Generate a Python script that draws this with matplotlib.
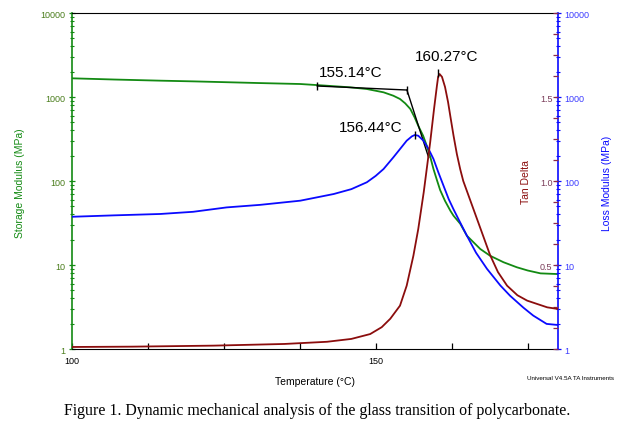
import numpy as np
import matplotlib
matplotlib.use('Agg')
import matplotlib.pyplot as plt
from matplotlib.ticker import FixedLocator, MultipleLocator, FuncFormatter, NullFormatter, LogLocator

# storage modulus (MPa)
T_stor = [100, 107, 114.6, 120, 125.5, 131, 137.6, 141.5, 145.8, 148.55, 151.3, 152.9, 154.0,
          154.85, 155.7, 156.4, 157.0, 157.8, 158.4, 159.0, 159.5, 160.1, 160.6, 161.4, 162.3,
          162.8, 163.9, 165.0, 167.2, 168.8, 171.0, 173.2, 175.0, 177.1, 180.0]
E_stor = [1670, 1615, 1565, 1535, 1500, 1465, 1428, 1370, 1304, 1245, 1137, 1036, 947,
          841, 720, 573, 455, 346, 263, 191, 139, 101, 78, 58, 44,
          38.6, 31, 22.3, 15.5, 12.9, 10.8, 9.4, 8.6, 7.95, 7.8]

# loss modulus (MPa)
T_loss = [100, 107, 114.6, 120, 125.5, 131, 137.6, 143.1, 146, 148.55, 150, 151.3, 152.9,
          154.0, 155.1, 155.95, 156.44, 157.0, 157.86, 158.7, 159.5, 160.3, 161.15, 162.0,
          162.8, 163.9, 165.0, 166.5, 168.3, 170.5, 172.1, 174.3, 175.9, 178.1, 180.0]
E_loss = [37.5, 39, 40.5, 43, 48.5, 52, 58.3, 70, 80, 96.6, 115, 139, 191,
          240, 302, 340, 353, 346, 302, 240, 183, 127, 88, 61,
          46, 32, 22.3, 14, 9.0, 5.7, 4.3, 3.1, 2.5, 1.99, 1.93]

# tan delta
T_tan = [100, 110, 123.3, 135, 142, 146, 149.1, 151, 152.4, 154.0, 155.1, 156.2, 157.0, 157.9,
         158.96, 159.6, 160.07, 160.27, 160.5, 160.9, 161.4, 161.9, 162.3, 162.8, 163.35, 163.9,
         164.4, 165.5, 166.6, 167.7, 168.8, 170.1, 171.6, 173.3, 174.9, 178.2, 180.0]
tan_d = [0.012, 0.014, 0.02, 0.03, 0.043, 0.06, 0.089, 0.13, 0.18, 0.258, 0.377, 0.555, 0.714, 0.933,
         1.23, 1.43, 1.567, 1.62, 1.637, 1.62, 1.56, 1.47, 1.38, 1.27, 1.16, 1.07,
         1.0, 0.89, 0.78, 0.67, 0.56, 0.458, 0.377, 0.32, 0.288, 0.248, 0.238]

# onset tangents
tang1_T = [140.4, 155.14]
tang1_E = [1352, 1211]
tang2_T = [155.14, 158.7]
tang2_E = [1211, 191]

green = '#138a13'
blue = '#0a0aff'
dred = '#8b0d0d'

fig = plt.figure(figsize=(6.35, 4.35), dpi=100)
ax = fig.add_axes([0.1126, 0.1954, 0.7664, 0.7724])
ax2 = ax.twinx()
ax3 = ax.twinx()

# storage modulus - left
ax.plot(T_stor, E_stor, color=green, lw=1.3)
ax.plot(tang1_T, tang1_E, color='black', lw=1)
ax.plot(tang2_T, tang2_E, color='black', lw=1)
ax.plot(tang1_T, tang1_E, ls='none', marker='|', color='black', ms=6, mew=1)
ax.set_yscale('log')
ax.set_ylim(1, 10000)
ax.set_xlim(100, 180)

# loss modulus - right
ax2.plot(T_loss, E_loss, color=blue, lw=1.3)
ax2.plot([156.44], [353], ls='none', marker='|', color='black', ms=6, mew=1)
ax2.set_yscale('log')
ax2.set_ylim(1, 10000)

# tan delta - inner right
ax3.plot(T_tan, tan_d, color=dred, lw=1.3)
ax3.plot([160.27], [1.64], ls='none', marker='|', color='black', ms=6, mew=1)
ax3.set_ylim(0, 2)

fmt = FuncFormatter(lambda v, p: f'{v:g}')
for a, c in [(ax, green), (ax2, blue)]:
    a.yaxis.set_major_locator(LogLocator(base=10, numticks=10))
    a.yaxis.set_minor_locator(LogLocator(base=10, subs=np.arange(2, 10), numticks=10))
    a.yaxis.set_major_formatter(fmt)
    a.yaxis.set_minor_formatter(NullFormatter())
    a.tick_params(axis='y', which='major', direction='inout', length=5, width=0.9, color=c,
                  labelsize=6.5, pad=2)
    a.tick_params(axis='y', which='minor', direction='inout', length=3.5, width=0.8, color=c)

ax.tick_params(axis='y', labelcolor='#4a7d1c')
ax2.tick_params(axis='y', labelcolor='#3c3cff')

ax3.yaxis.set_major_locator(FixedLocator([0.5, 1.0, 1.5]))
ax3.yaxis.set_minor_locator(MultipleLocator(0.125))
ax3.yaxis.set_major_formatter(FuncFormatter(lambda v, p: f'{v:.1f}'))
ax3.tick_params(axis='y', which='both', direction='in', length=3.5, width=0.9, color='#8b2a4a',
                labelsize=6.5, labelcolor='#7b3d5a', pad=-4)
for lab in ax3.get_yticklabels():
    lab.set_horizontalalignment('right')

ax.xaxis.set_major_locator(FixedLocator([100, 150]))
ax.xaxis.set_minor_locator(MultipleLocator(12.5))
ax.tick_params(axis='x', which='both', direction='in', length=4, width=0.9, color='black',
               labelsize=6.5, pad=5)

for a in (ax2, ax3):
    a.spines['left'].set_visible(False)
    a.spines['top'].set_visible(False)
    a.spines['bottom'].set_visible(False)
ax3.spines['right'].set_visible(False)
ax.spines['right'].set_visible(False)
ax.spines['left'].set_color(green)
ax.spines['left'].set_linewidth(1.2)
ax2.spines['right'].set_color(blue)
ax2.spines['right'].set_linewidth(1.2)

plt.rcParams['font.family'] = 'Liberation Sans'
lab_font = dict(family='Liberation Sans', size=7.5)
ax.set_ylabel('Storage Modulus (MPa)', color=green, **lab_font)
ax.yaxis.set_label_coords(-0.0956, 0.497)
ax2.set_ylabel('Loss Modulus (MPa)', color=blue, **lab_font)
ax2.yaxis.set_label_coords(1.0905, 0.497)
ax3.set_ylabel('Tan Delta', color=dred, **lab_font)
ax3.yaxis.set_label_coords(0.924, 0.50)
ax.set_xlabel('Temperature (°C)', labelpad=8, **lab_font)

# peak / onset labels
ax.text(145.9, 1985, '155.14°C', ha='center', va='center', fontsize=11, family='Liberation Sans')
ax.text(161.6, 3076, '160.27°C', ha='center', va='center', fontsize=11, family='Liberation Sans')
ax.text(149.1, 439, '156.44°C', ha='center', va='center', fontsize=11, family='Liberation Sans')

fig.text(0.967, 0.131, 'Universal V4.5A TA Instruments', ha='right', va='center',
         fontsize=4.5, family='Liberation Sans')
fig.text(0.5, 0.055, 'Figure 1. Dynamic mechanical analysis of the glass transition of polycarbonate.',
         ha='center', va='center', fontsize=11.4, family='Liberation Serif')

for lab in ax.get_xticklabels() + ax.get_yticklabels() + ax2.get_yticklabels() + ax3.get_yticklabels():
    lab.set_family('Liberation Sans')

fig.savefig('out.png', dpi=100)
